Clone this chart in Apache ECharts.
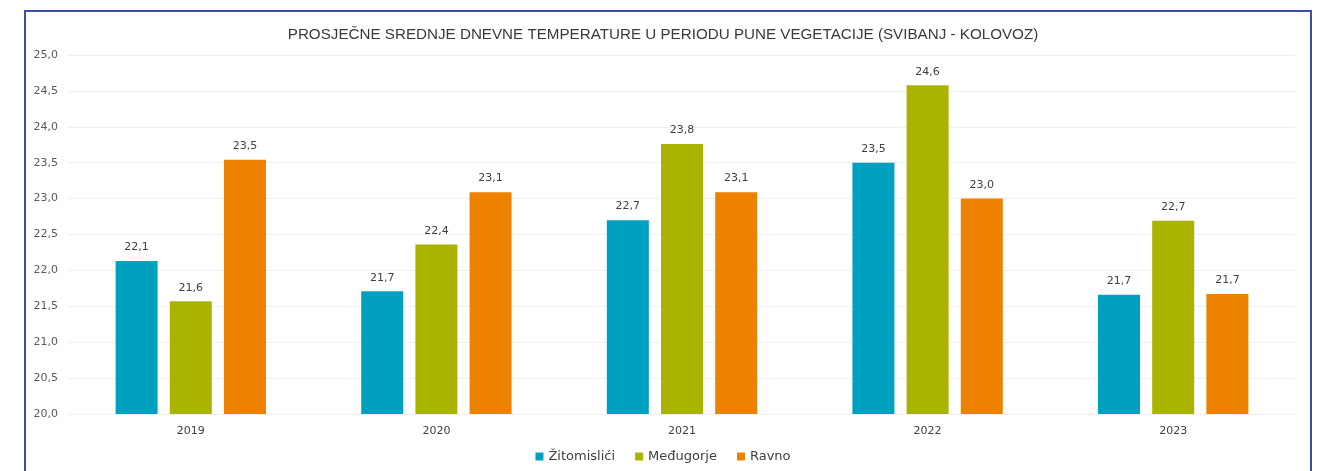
<!DOCTYPE html>
<html>
<head>
<meta charset="utf-8">
<script src="https://cdn.jsdelivr.net/npm/echarts@6/dist/echarts.min.js"></script>
<style>
html,body{margin:0;padding:0;background:#fff;}
#c{width:1326px;height:471px;}
</style>
</head>
<body>
<div id="c"></div>
<script>
const categories = ['2019', '2020', '2021', '2022', '2023'];
const zitomislici = [22.13, 21.71, 22.70, 23.50, 21.66];
const medugorje = [21.57, 22.36, 23.76, 24.58, 22.69];
const ravno = [23.54, 23.09, 23.09, 23.00, 21.67];
const seriesNames = ['Žitomislići', 'Međugorje', 'Ravno'];
const colors = ['#00A0C1', '#AAB400', '#EC8200'];
const titleText = 'PROSJEČNE SREDNJE DNEVNE TEMPERATURE U PERIODU PUNE VEGETACIJE (SVIBANJ - KOLOVOZ)';

const FONT = 'DejaVu Sans, Verdana, sans-serif';
const fmt = v => v.toFixed(1).replace('.', ',');
const chart = echarts.init(document.getElementById('c'), null, {renderer: 'canvas'});
const mk = (name, data, color) => ({
  name, type: 'bar', data, barWidth: 42, barGap: '29%',
  itemStyle: {color},
  label: {show: true, position: 'top', distance: 8, color: '#404040', fontSize: 11,
    fontFamily: FONT, formatter: p => fmt(p.value)}
});
chart.setOption({
  animation: false,
  textStyle: {fontFamily: FONT},
  title: {text: titleText, left: 'center', top: 22,
    textStyle: {fontSize: 15.2, fontWeight: 'normal', color: '#3a3a3a', fontFamily: 'Liberation Sans, Arial, sans-serif'}},
  legend: {data: seriesNames, bottom: 3, left: 'center', itemWidth: 8, itemHeight: 8, itemGap: 20,
    icon: 'rect', textStyle: {fontSize: 13, color: '#404040', fontFamily: FONT}},
  grid: {left: 68, right: 30, top: 55, bottom: 57, containLabel: false},
  xAxis: {type: 'category', data: categories,
    axisLine: {show: false}, axisTick: {show: false},
    axisLabel: {fontSize: 11, color: '#404040', margin: 12, fontFamily: FONT}},
  yAxis: {type: 'value', min: 20, max: 25, interval: 0.5,
    axisLine: {show: false}, axisTick: {show: false},
    axisLabel: {fontSize: 11, color: '#595959', formatter: v => fmt(v), margin: 10, fontFamily: FONT},
    splitLine: {lineStyle: {color: '#efefef'}}},
  series: [mk(seriesNames[0], zitomislici, colors[0]), mk(seriesNames[1], medugorje, colors[1]), mk(seriesNames[2], ravno, colors[2])],
  graphic: [{type: 'rect', shape: {x: 25, y: 11, width: 1286, height: 520},
    style: {fill: 'none', stroke: '#3D4DA3', lineWidth: 2}, silent: true}]
});
</script>
</body>
</html>
